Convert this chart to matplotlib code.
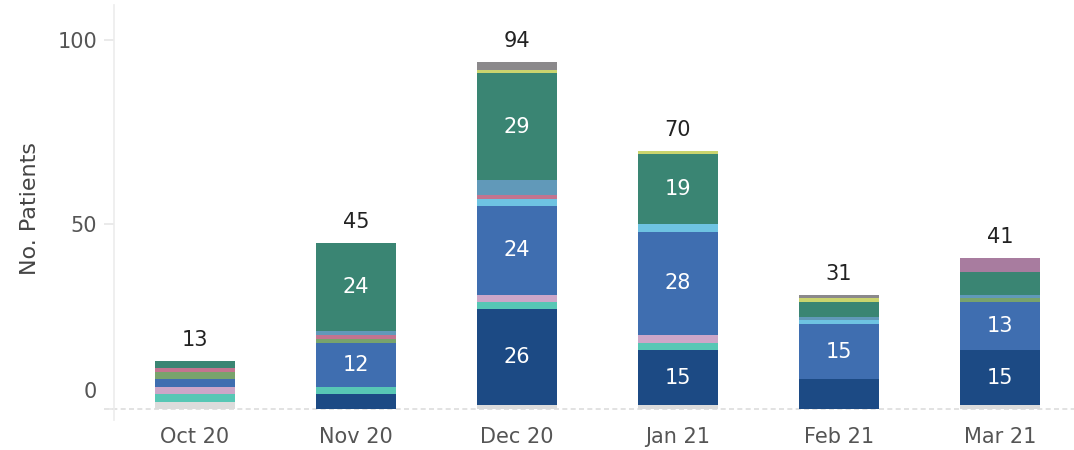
import matplotlib
matplotlib.use("Agg")
import matplotlib.pyplot as plt
import matplotlib.transforms as mtransforms
import numpy as np

months = ["Oct 20", "Nov 20", "Dec 20", "Jan 21", "Feb 21", "Mar 21"]

# stacked series, bottom to top
s1 = [2, 0, 1, 1, 0, 1]     # light gray
s2 = [0, 4, 26, 15, 8, 15]  # navy
s3 = [2, 2, 2, 2, 0, 0]     # teal
s4 = [2, 0, 2, 2, 0, 0]     # lavender
s5 = [2, 12, 24, 28, 15, 13]  # blue
s6 = [0, 0, 2, 2, 1, 0]     # light blue
s7 = [2, 1, 0, 0, 0, 1]     # sage
s8 = [1, 1, 1, 0, 0, 0]     # pink
s9 = [0, 1, 4, 0, 1, 1]     # steel blue
s10 = [2, 24, 29, 19, 4, 6]  # teal green
s11 = [0, 0, 1, 1, 1, 0]    # yellow green
s12 = [0, 0, 2, 0, 1, 0]    # gray
s13 = [0, 0, 0, 0, 0, 4]    # purple
series = [s1, s2, s3, s4, s5, s6, s7, s8, s9, s10, s11, s12, s13]
colors = ["#dcdcdc", "#1c4a84", "#57c7b5", "#cca6c8", "#3f6eb0", "#6ec3e2",
          "#78a36c", "#c2748f", "#6199b9", "#3a8573", "#cad46e", "#8b898b", "#a87c9f"]

plt.rcParams['font.family'] = ['DejaVu Sans']

fig = plt.figure(figsize=(10.74, 4.5), dpi=100)
ax = fig.add_axes([0.1061, 0.0667, 0.8939, 0.9223])

x = np.arange(len(months))
bottom = np.zeros(len(months))
for vals, col in zip(series, colors):
    vals = np.array(vals, dtype=float)
    ax.bar(x, vals, width=0.5, bottom=bottom, color=col, linewidth=0)
    for xi, v, b in zip(x, vals, bottom):
        if v >= 12:
            ax.text(xi, b + v / 2, f"{int(v)}", ha="center", va="center",
                    color="white", fontsize=15)
    bottom += vals

for xi, tot in zip(x, bottom):
    ax.annotate(f"{int(tot)}", (xi, tot), xytext=(0, 15), textcoords="offset points",
                ha="center", va="center", fontsize=15, color="#222222")

ax.set_xlim(-0.503, 5.46)
ax.set_ylim(-3, 109.5)
ax.set_yticks([0, 50, 100])
ax.set_yticklabels(["0", "50", "100"])
ax.set_xticks(x)
ax.set_xticklabels(months)

for s in ["top", "right", "bottom"]:
    ax.spines[s].set_visible(False)
ax.spines["left"].set_color("#ececec")
ax.spines["left"].set_linewidth(1.2)

ax.tick_params(axis="y", length=7, color="#e6e6e6", width=1.2, labelsize=15,
               labelcolor="#555555", pad=5)
ax.tick_params(axis="x", length=0, labelsize=15, labelcolor="#555555", pad=5)

# dashed baseline
ax.axhline(0, color="#dddddd", linewidth=1.2, linestyle=(0, (3, 2)), zorder=0,
           xmin=-0.0104, xmax=1.0, clip_on=False)

# raise the "0" label
offset = mtransforms.ScaledTranslation(0, 19 / 100, fig.dpi_scale_trans)
lab0 = ax.get_yticklabels()[0]
lab0.set_transform(lab0.get_transform() + offset)

ax.set_ylabel("No. Patients", fontsize=16, color="#444444")
ax.yaxis.set_label_coords(-0.077, 0.51)

fig.savefig("out.png", dpi=100)
